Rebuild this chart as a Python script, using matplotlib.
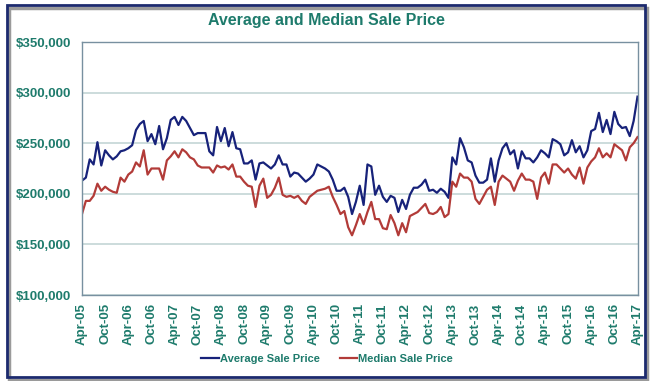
import matplotlib
matplotlib.use("Agg")
import matplotlib.pyplot as plt
from matplotlib.patches import Rectangle
from matplotlib.ticker import FuncFormatter

# monthly values, Apr-05 .. Apr-17, in $ thousands
avg_price = [213, 216, 234, 229, 251, 228, 243, 238, 234, 237,
             242, 243, 245, 248, 263, 269, 272, 252, 259, 249,
             267, 244, 255, 273, 276, 268, 276, 272, 265, 258,
             260, 260, 260, 242, 238, 266, 252, 265, 247, 261,
             245, 244, 230, 230, 233, 214, 230, 231, 228, 225,
             229, 238, 229, 229, 217, 221, 220, 216, 212, 215,
             219, 229, 227, 225, 222, 214, 203, 203, 206, 197,
             180, 192, 208, 189, 229, 227, 199, 208, 197, 192,
             198, 196, 182, 194, 185, 199, 206, 206, 209, 214,
             203, 204, 201, 205, 202, 196, 236, 229, 255, 246,
             233, 231, 218, 211, 211, 214, 235, 212, 233, 245,
             250, 239, 243, 225, 242, 235, 235, 231, 236, 243,
             240, 236, 254, 252, 249, 238, 241, 253, 241, 247,
             236, 243, 262, 264, 280, 261, 273, 259, 281, 269,
             265, 266, 257, 272, 296]

median_price = [180, 193, 193, 198, 210, 203, 207, 204, 202, 201,
                216, 212, 219, 222, 231, 227, 243, 219, 225, 225,
                225, 214, 233, 237, 242, 236, 244, 241, 236, 234,
                228, 226, 226, 226, 221, 228, 226, 227, 224, 229,
                217, 217, 212, 208, 207, 187, 208, 215, 196, 199,
                206, 216, 199, 197, 198, 196, 198, 193, 190, 197,
                200, 203, 204, 205, 207, 197, 189, 180, 183, 167,
                159, 169, 180, 170, 182, 192, 175, 175, 166, 165,
                179, 171, 159, 171, 162, 178, 180, 182, 186, 190,
                181, 180, 182, 187, 177, 180, 212, 207, 220, 216,
                216, 212, 195, 190, 197, 204, 207, 189, 212, 218,
                215, 212, 203, 213, 220, 214, 214, 212, 195, 216,
                221, 210, 229, 229, 225, 221, 225, 219, 215, 226,
                210, 226, 232, 236, 245, 236, 240, 236, 249, 246,
                243, 233, 246, 250, 256]

years = list(range(5, 18))
tick_labels = []
for y in years:
    tick_labels.append("Apr-%02d" % y)
    if y < 17:
        tick_labels.append("Oct-%02d" % y)

teal = "#1e7b6c"
navy = "#17227a"
red = "#b23b38"
plt.rcParams['font.family'] = ['Liberation Sans', 'DejaVu Sans']

fig = plt.figure(figsize=(6.5, 3.81), dpi=100)
ax = fig.add_axes([82 / 650, 1 - 295 / 381, 555.5 / 650, 253 / 381])

months = list(range(len(avg_price)))
ax.plot(months, [v * 1000 for v in avg_price], color=navy, lw=1.6, label="Average Sale Price")
ax.plot(months, [v * 1000 for v in median_price], color=red, lw=1.6, label="Median Sale Price")

ax.set_xlim(0, len(months) - 1)
ax.set_ylim(100000, 350000)
ax.set_yticks(range(100000, 350001, 50000))
ax.yaxis.set_major_formatter(FuncFormatter(lambda v, p: "${:,.0f}".format(v)))
ax.set_xticks(range(0, len(months), 6))
ax.set_xticklabels(tick_labels, rotation=90)
ax.tick_params(axis='both', length=0, labelsize=9.5, labelcolor=teal)
ax.tick_params(axis='y', pad=8)
ax.tick_params(axis='x', pad=6)
for lab in ax.get_xticklabels() + ax.get_yticklabels():
    lab.set_fontweight('bold')
ax.grid(axis='y', color='#c3d6d6', lw=1.2)
ax.set_axisbelow(True)
for s in ax.spines.values():
    s.set_color('#7890a0')
    s.set_linewidth(1)

fig.text(326 / 650, 1 - 21 / 381, "Average and Median Sale Price", ha='center', va='center',
         fontsize=11.5, fontweight='bold', color=teal)

leg = fig.legend(loc='center', bbox_to_anchor=(327 / 650, 1 - 359 / 381), ncol=2, frameon=False,
                 handlelength=1.6, handletextpad=0.1, columnspacing=1.8,
                 prop={'size': 8, 'weight': 'bold'})
for t in leg.get_texts():
    t.set_color(teal)

# outer border with shadow
fig.patches.append(Rectangle((9 / 650, 1 - 380 / 381), 638 / 650, 372 / 381,
                             transform=fig.transFigure, fill=False, ec='#9a9a9a', lw=2.5))
fig.patches.append(Rectangle((7 / 650, 1 - 377 / 381), 638 / 650, 372 / 381,
                             transform=fig.transFigure, fill=False, ec='#1c2a6e', lw=2))

fig.savefig("out.png", dpi=100)
